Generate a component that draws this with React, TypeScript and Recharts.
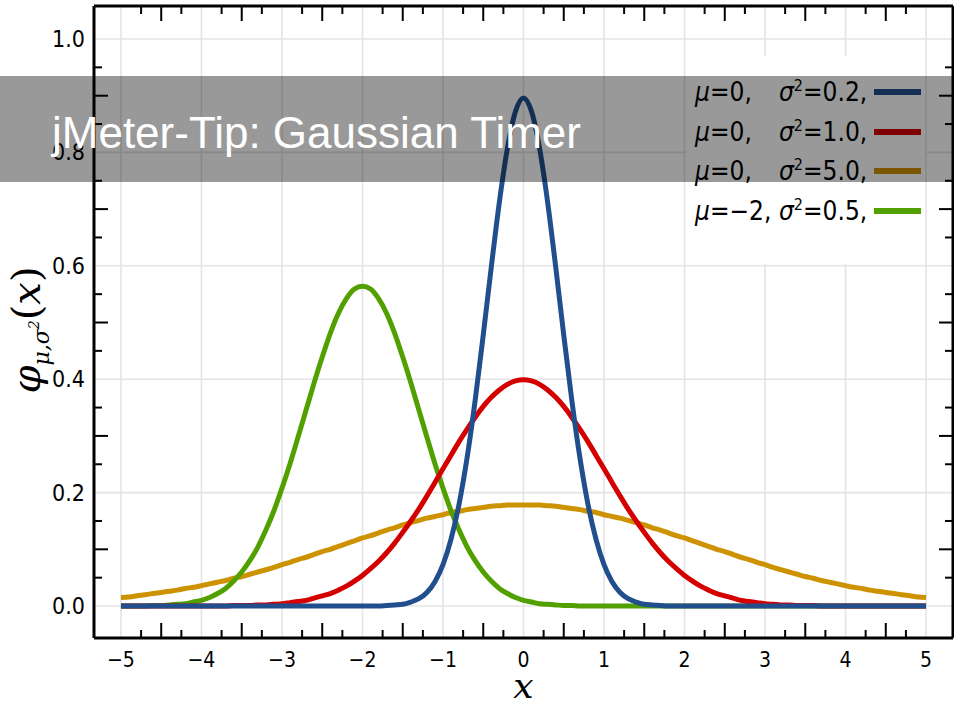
import React from 'react'
import { LineChart, Line, XAxis, YAxis, CartesianGrid, Legend } from 'recharts'

// sample positions, -5 .. 5 in steps of 0.1
const xValues = [
  -5.0, -4.9, -4.8, -4.7, -4.6, -4.5, -4.4, -4.3, -4.2, -4.1,
  -4.0, -3.9, -3.8, -3.7, -3.6, -3.5, -3.4, -3.3, -3.2, -3.1,
  -3.0, -2.9, -2.8, -2.7, -2.6, -2.5, -2.4, -2.3, -2.2, -2.1,
  -2.0, -1.9, -1.8, -1.7, -1.6, -1.5, -1.4, -1.3, -1.2, -1.1,
  -1.0, -0.9, -0.8, -0.7, -0.6, -0.5, -0.4, -0.3, -0.2, -0.1,
  0.0, 0.1, 0.2, 0.3, 0.4, 0.5, 0.6, 0.7, 0.8, 0.9,
  1.0, 1.1, 1.2, 1.3, 1.4, 1.5, 1.6, 1.7, 1.8, 1.9,
  2.0, 2.1, 2.2, 2.3, 2.4, 2.5, 2.6, 2.7, 2.8, 2.9,
  3.0, 3.1, 3.2, 3.3, 3.4, 3.5, 3.6, 3.7, 3.8, 3.9,
  4.0, 4.1, 4.2, 4.3, 4.4, 4.5, 4.6, 4.7, 4.8, 4.9,
  5.0,
]

// mu=0, sigma^2=0.2
const blueValues = [
  0, 0, 0, 0, 0, 0, 0, 0, 0, 0,
  0, 0, 0, 0, 0, 0, 0, 0, 0, 0,
  0, 0, 0, 0, 0, 0, 0, 0, 0, 0,
  0, 0, 0, 0.001, 0.002, 0.003, 0.007, 0.013, 0.024, 0.043,
  0.073, 0.118, 0.180, 0.262, 0.363, 0.478, 0.598, 0.712, 0.807, 0.872,
  0.896, 0.872, 0.807, 0.712, 0.598, 0.478, 0.363, 0.262, 0.180, 0.118,
  0.073, 0.043, 0.024, 0.013, 0.007, 0.003, 0.002, 0.001, 0, 0,
  0, 0, 0, 0, 0, 0, 0, 0, 0, 0,
  0, 0, 0, 0, 0, 0, 0, 0, 0, 0,
  0, 0, 0, 0, 0, 0, 0, 0, 0, 0,
  0,
]

// mu=0, sigma^2=1.0
const redValues = [
  0, 0, 0, 0, 0, 0, 0, 0, 0, 0,
  0, 0, 0, 0, 0.001, 0.001, 0.001, 0.002, 0.002, 0.003,
  0.004, 0.006, 0.008, 0.010, 0.014, 0.018, 0.022, 0.028, 0.035, 0.044,
  0.054, 0.066, 0.079, 0.094, 0.111, 0.130, 0.150, 0.171, 0.194, 0.218,
  0.242, 0.266, 0.290, 0.312, 0.333, 0.352, 0.368, 0.381, 0.391, 0.397,
  0.399, 0.397, 0.391, 0.381, 0.368, 0.352, 0.333, 0.312, 0.290, 0.266,
  0.242, 0.218, 0.194, 0.171, 0.150, 0.130, 0.111, 0.094, 0.079, 0.066,
  0.054, 0.044, 0.035, 0.028, 0.022, 0.018, 0.014, 0.010, 0.008, 0.006,
  0.004, 0.003, 0.002, 0.002, 0.001, 0.001, 0.001, 0, 0, 0,
  0, 0, 0, 0, 0, 0, 0, 0, 0, 0,
  0,
]

// mu=0, sigma^2=5.0
const orangeValues = [
  0.015, 0.016, 0.018, 0.020, 0.022, 0.024, 0.026, 0.028, 0.031, 0.033,
  0.036, 0.039, 0.042, 0.045, 0.049, 0.052, 0.056, 0.060, 0.064, 0.068,
  0.073, 0.077, 0.082, 0.086, 0.091, 0.096, 0.100, 0.105, 0.110, 0.115,
  0.120, 0.124, 0.129, 0.134, 0.138, 0.143, 0.147, 0.151, 0.155, 0.158,
  0.161, 0.165, 0.167, 0.170, 0.172, 0.174, 0.176, 0.177, 0.178, 0.178,
  0.178, 0.178, 0.178, 0.177, 0.176, 0.174, 0.172, 0.170, 0.167, 0.165,
  0.161, 0.158, 0.155, 0.151, 0.147, 0.143, 0.138, 0.134, 0.129, 0.124,
  0.120, 0.115, 0.110, 0.105, 0.100, 0.096, 0.091, 0.086, 0.082, 0.077,
  0.073, 0.068, 0.064, 0.060, 0.056, 0.052, 0.049, 0.045, 0.042, 0.039,
  0.036, 0.033, 0.031, 0.028, 0.026, 0.024, 0.022, 0.020, 0.018, 0.016,
  0.015,
]

// mu=-2, sigma^2=0.5
const greenValues = [
  0, 0, 0, 0, 0.001, 0.001, 0.002, 0.003, 0.004, 0.007,
  0.010, 0.015, 0.022, 0.031, 0.044, 0.060, 0.080, 0.104, 0.134, 0.168,
  0.208, 0.251, 0.298, 0.346, 0.394, 0.439, 0.481, 0.516, 0.542, 0.559,
  0.564, 0.559, 0.542, 0.516, 0.481, 0.439, 0.394, 0.346, 0.298, 0.251,
  0.208, 0.168, 0.134, 0.104, 0.080, 0.060, 0.044, 0.031, 0.022, 0.015,
  0.010, 0.007, 0.004, 0.003, 0.002, 0.001, 0.001, 0, 0, 0,
  0, 0, 0, 0, 0, 0, 0, 0, 0, 0,
  0, 0, 0, 0, 0, 0, 0, 0, 0, 0,
  0, 0, 0, 0, 0, 0, 0, 0, 0, 0,
  0, 0, 0, 0, 0, 0, 0, 0, 0, 0,
  0,
]

// tick marks: integers get labels on the x axis, halves long ticks, quarters short ticks
const xTicks = [
  -5, -4.75, -4.5, -4.25, -4, -3.75, -3.5, -3.25, -3, -2.75, -2.5, -2.25,
  -2, -1.75, -1.5, -1.25, -1, -0.75, -0.5, -0.25, 0, 0.25, 0.5, 0.75,
  1, 1.25, 1.5, 1.75, 2, 2.25, 2.5, 2.75, 3, 3.25, 3.5, 3.75,
  4, 4.25, 4.5, 4.75, 5,
]
const yTicks = [
  0, 0.05, 0.1, 0.15, 0.2, 0.25, 0.3, 0.35, 0.4, 0.45, 0.5,
  0.55, 0.6, 0.65, 0.7, 0.75, 0.8, 0.85, 0.9, 0.95, 1.0,
]
const gridX = [-5, -4, -3, -2, -1, 0, 1, 2, 3, 4, 5]
const gridY = [0, 0.2, 0.4, 0.6, 0.8, 1.0]

const legendMu = ['0', '0', '0', '\u22122']
const legendSigma2 = ['0.2', '1.0', '5.0', '0.5']
const legendColors = ['#214f8d', '#d40000', '#cc9200', '#52a000']

const data = xValues.map((x, i) => ({
  x,
  blue: blueValues[i],
  red: redValues[i],
  orange: orangeValues[i],
  green: greenValues[i],
}))

const tickFont = "'Liberation Sans Narrow', 'DejaVu Sans Condensed', 'Liberation Sans', sans-serif"
const fmtX = (v: number) => (v < 0 ? '\u2212' + Math.abs(v) : String(v))

const BottomTick = (props: any) => {
  const { x, y, payload } = props
  const q = Math.abs(Math.round(payload.value * 4))
  if (q % 4 === 0)
    return <text x={x} y={y + 22} dy="0.35em" textAnchor="middle" fontSize={21} fill="#000" fontFamily={tickFont}>{fmtX(payload.value)}</text>
  const len = q % 2 === 0 ? 15 : 8
  return <line x1={x} x2={x} y1={y} y2={y - len} stroke="#000" strokeWidth={2} />
}

const TopTick = (props: any) => {
  const { x, y, payload } = props
  const q = Math.abs(Math.round(payload.value * 4))
  if (q % 4 === 0) return <g />
  const len = q % 2 === 0 ? 15 : 8
  return <line x1={x} x2={x} y1={y} y2={y + len} stroke="#000" strokeWidth={2} />
}

const LeftTick = (props: any) => {
  const { x, y, payload } = props
  const k = Math.abs(Math.round(payload.value * 20))
  if (k % 4 === 0)
    return <text x={x - 9} y={y} dy="0.35em" textAnchor="end" fontSize={23} fill="#000" fontFamily={tickFont}>{payload.value.toFixed(1)}</text>
  const len = k % 2 === 0 ? 14 : 8
  return <line x1={x} x2={x + len} y1={y} y2={y} stroke="#000" strokeWidth={2} />
}

const RightTick = (props: any) => {
  const { x, y, payload } = props
  const k = Math.abs(Math.round(payload.value * 20))
  if (k % 4 === 0) return <g />
  const len = k % 2 === 0 ? 14 : 8
  return <line x1={x} x2={x - len} y1={y} y2={y} stroke="#000" strokeWidth={2} />
}

const XLabel = (props: any) => {
  const vb = props.viewBox || {}
  return (
    <text x={vb.x + vb.width / 2} y={vb.y + 60} textAnchor="middle" fontFamily="'DejaVu Serif', serif" fontStyle="italic" fontSize={36} fill="#000">x</text>
  )
}

const YLabel = (props: any) => {
  const vb = props.viewBox || {}
  const cx = vb.x + vb.width - 66
  const cy = vb.y + vb.height / 2 + 8
  return (
    <text x={cx} y={cy} transform={`rotate(-90, ${cx}, ${cy})`} textAnchor="middle" dy="0.3em" fontFamily="'DejaVu Serif', serif" fontStyle="italic" fontSize={40} fill="#000">
      φ
      <tspan fontSize={22} dy={9}>μ,σ</tspan>
      <tspan fontSize={14} dy={-10}>2</tspan>
      <tspan fontStyle="normal" dy={1}>(</tspan>
      <tspan>x</tspan>
      <tspan fontStyle="normal">)</tspan>
    </text>
  )
}

const LegendBox = () => (
  <div style={{ position: 'relative', width: 238, height: 208, background: '#fff', fontFamily: tickFont, fontSize: 26, color: '#000' }}>
    {legendMu.map((mu, i) => (
      <div key={i} style={{ position: 'absolute', left: 0, top: 36 + i * 39.5 - 16, height: 32, width: 238, lineHeight: '32px' }}>
        <span style={{ position: 'absolute', left: 8 }}>
          <i>μ</i>={mu},
        </span>
        <span style={{ position: 'absolute', left: 92 }}>
          <i>σ</i><sup style={{ fontSize: 16, verticalAlign: 0, position: 'relative', top: -10 }}>2</sup>={legendSigma2[i]},
        </span>
        <span style={{ position: 'absolute', left: 187, top: 13, width: 47, height: 6, background: legendColors[i] }} />
      </div>
    ))}
  </div>
)

export default function App() {
  return (
    <div style={{ position: 'absolute', left: 0, top: 0, width: 954, height: 707, background: '#fff', overflow: 'hidden' }}>
      <LineChart width={954} height={707} data={data} margin={{ top: 5, right: 0, bottom: 68, left: 93 }}>
        <CartesianGrid xAxisId="b" yAxisId="l" stroke="#e4e4e4" strokeWidth={1.6} verticalValues={gridX} horizontalValues={gridY} />
        <XAxis xAxisId="b" dataKey="x" type="number" domain={[-5.335, 5.335]} allowDataOverflow ticks={xTicks} interval={0}
          height={1} tickSize={0} tickMargin={0} tickLine={false} tick={<BottomTick />}
          axisLine={{ stroke: '#000', strokeWidth: 3 }} label={(p: any) => <XLabel {...p} />} />
        <XAxis xAxisId="t" orientation="top" dataKey="x" type="number" domain={[-5.335, 5.335]} allowDataOverflow ticks={xTicks} interval={0}
          height={1} tickSize={0} tickMargin={0} tickLine={false} tick={<TopTick />}
          axisLine={{ stroke: '#000', strokeWidth: 3 }} />
        <YAxis yAxisId="l" type="number" domain={[-0.0564, 1.0582]} allowDataOverflow ticks={yTicks} interval={0}
          width={1} tickSize={0} tickMargin={0} tickLine={false} tick={<LeftTick />}
          axisLine={{ stroke: '#000', strokeWidth: 3 }} label={(p: any) => <YLabel {...p} />} />
        <YAxis yAxisId="r" orientation="right" type="number" domain={[-0.0564, 1.0582]} allowDataOverflow ticks={yTicks} interval={0}
          width={1} tickSize={0} tickMargin={0} tickLine={false} tick={<RightTick />}
          axisLine={{ stroke: '#000', strokeWidth: 3 }} />
        <Legend layout="vertical" align="center" verticalAlign="middle" wrapperStyle={{ left: 687, top: 56, width: 238, height: 208 }} content={() => <LegendBox />} />
        <Line xAxisId="b" yAxisId="l" type="monotone" dataKey="orange" stroke="#cc9200" strokeWidth={5} dot={false} isAnimationActive={false} />
        <Line xAxisId="b" yAxisId="l" type="monotone" dataKey="green" stroke="#52a000" strokeWidth={5} dot={false} isAnimationActive={false} />
        <Line xAxisId="b" yAxisId="l" type="monotone" dataKey="red" stroke="#d40000" strokeWidth={5} dot={false} isAnimationActive={false} />
        <Line xAxisId="b" yAxisId="l" type="monotone" dataKey="blue" stroke="#214f8d" strokeWidth={5} dot={false} isAnimationActive={false} />
      </LineChart>
      <div style={{ position: 'absolute', left: 0, top: 76, width: 954, height: 106, background: 'rgba(0,0,0,0.4)' }}>
        <div style={{ position: 'absolute', left: 52, top: 35, fontFamily: "'Liberation Sans', Arial, sans-serif", fontSize: 44, lineHeight: 1, color: '#fff', whiteSpace: 'nowrap' }}>
          jMeter-Tip: Gaussian Timer
        </div>
      </div>
    </div>
  )
}
